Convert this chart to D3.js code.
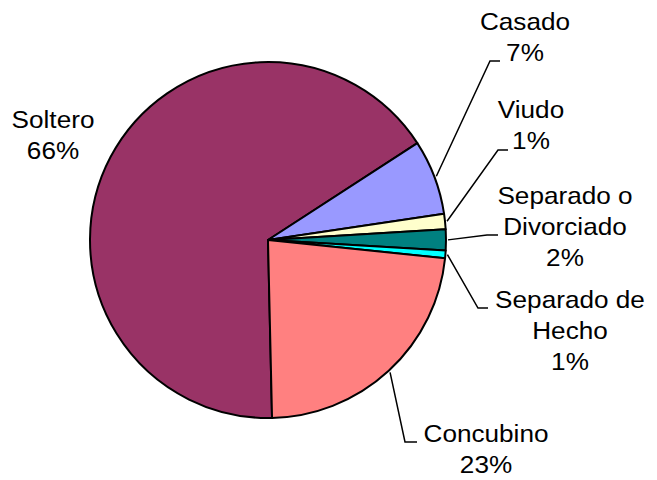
<!DOCTYPE html>
<style>
    body {
        margin: 0;
        background: #fff;
        font-family: Arial, 'Liberation Sans', sans-serif;
    }
</style>
<svg width="657" height="480"></svg>
<script src="https://cdn.jsdelivr.net/npm/d3@7/dist/d3.min.js"></script>
<script>
    // data (shares in %)
    var categories = ["Soltero", "Casado", "Viudo", "Separado o Divorciado", "Separado de Hecho", "Concubino"];
    var values = [66.2, 6.8, 1.4, 1.9, 0.7, 23.0];
    var colors = ["#993366", "#9999FF", "#FFFFCC", "#008080", "#00FFFF", "#FF8080"];

    // label layout: text lines, centre x, first baseline, leader elbow (null = no leader)
    var labelLines = [["Soltero"], ["Casado"], ["Viudo"], ["Separado o", "Divorciado"], ["Separado de", "Hecho"], ["Concubino"]];
    var labelPos = [
        {x: 53, y: 128, elbow: null},
        {x: 525, y: 30, elbow: [490, 61, 500]},
        {x: 531, y: 118, elbow: [498, 150, 508]},
        {x: 565, y: 204, elbow: [487, 235, 498]},
        {x: 570, y: 308, elbow: [478, 308, 488]},
        {x: 486, y: 442, elbow: [405, 442, 417]}
    ];

    var svg = d3.select("svg"),
        cx = 268, cy = 240, radius = 178,
        lineH = 31,
        g = svg.append("g").attr("transform", "translate(" + cx + "," + cy + ")");

    var data = categories.map(function (c, i) {
        return {name: c, value: values[i], color: colors[i], lines: labelLines[i], pos: labelPos[i]};
    });
    var total = d3.sum(values);

    var startA = 178.7 * Math.PI / 180;
    var pie = d3.pie()
        .sort(null)
        .value(function (d) { return d.value; })
        .startAngle(startA)
        .endAngle(startA + 2 * Math.PI);

    var arc = d3.arc().innerRadius(0).outerRadius(radius);
    var arcs = pie(data);

    g.selectAll("path.slice")
        .data(arcs)
        .enter().append("path")
        .attr("class", "slice")
        .attr("d", arc)
        .attr("fill", function (d) { return d.data.color; })
        .attr("stroke", "#000")
        .attr("stroke-width", 2)
        .attr("stroke-linejoin", "round");

    // leader lines
    arcs.forEach(function (d) {
        var e = d.data.pos.elbow;
        if (!e) return;
        var mid = (d.startAngle + d.endAngle) / 2,
            r0 = radius + 2,
            x0 = cx + r0 * Math.sin(mid),
            y0 = cy - r0 * Math.cos(mid);
        svg.append("polyline")
            .attr("points", [[x0, y0], [e[0], e[1]], [e[2], e[1]]].map(function (p) { return p.join(","); }).join(" "))
            .attr("fill", "none")
            .attr("stroke", "#000")
            .attr("stroke-width", 1.5);
    });

    // labels
    arcs.forEach(function (d) {
        var p = d.data.pos;
        var pct = Math.round(d.data.value / total * 100) + "%";
        var lines = d.data.lines.concat([pct]);
        var t = svg.append("text")
            .attr("transform", "translate(" + p.x + "," + p.y + ") scale(1.09,1)")
            .attr("text-anchor", "middle")
            .attr("font-size", 24)
            .attr("fill", "#000");
        lines.forEach(function (l, i) {
            t.append("tspan")
                .attr("x", 0)
                .attr("y", i * lineH)
                .text(l);
        });
    });
</script>
